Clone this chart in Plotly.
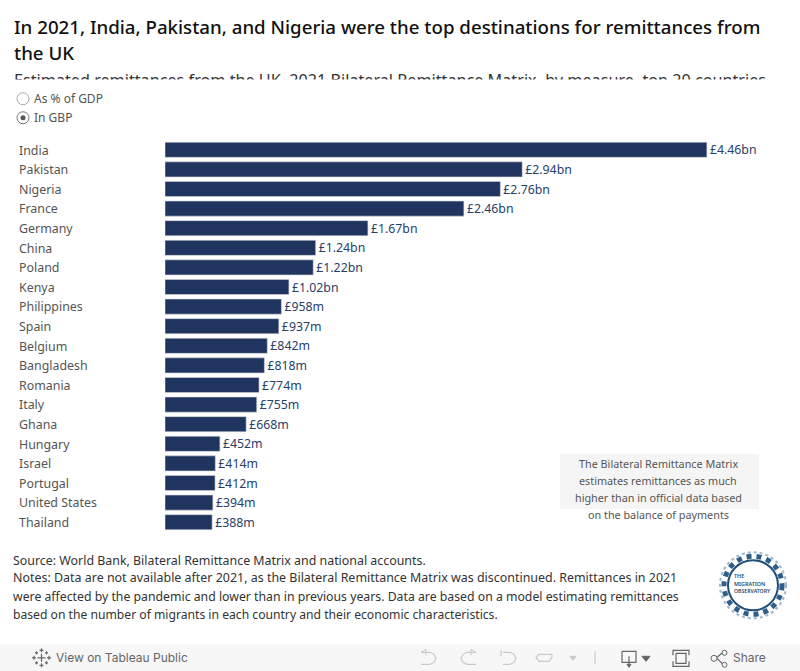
import plotly.graph_objects as go

W, H = 800, 671
countries = ["India","Pakistan","Nigeria","France","Germany","China","Poland","Kenya","Philippines","Spain",
             "Belgium","Bangladesh","Romania","Italy","Ghana","Hungary","Israel","Portugal","United States","Thailand"]
values_m = [4460,2940,2760,2460,1670,1240,1220,1020,958,937,842,818,774,755,668,452,414,412,394,388]
value_labels = ["£4.46bn","£2.94bn","£2.76bn","£2.46bn","£1.67bn","£1.24bn","£1.22bn","£1.02bn","£958m","£937m",
                "£842m","£818m","£774m","£755m","£668m","£452m","£414m","£412m","£394m","£388m"]
title_lines = ["In 2021, India, Pakistan, and Nigeria were the top destinations for remittances from", "the UK"]
subtitle = "Estimated remittances from the UK, 2021 Bilateral Remittance Matrix, by measure, top 20 countries"
note_lines = ["Source: World Bank, Bilateral Remittance Matrix and national accounts.",
              "Notes: Data are not available after 2021, as the Bilateral Remittance Matrix was discontinued. Remittances in 2021",
              "were affected by the pandemic and lower than in previous years. Data are based on a model estimating remittances",
              "based on the number of migrants in each country and their economic characteristics."]
box_lines = ["The Bilateral Remittance Matrix","estimates remittances as much","higher than in official data based","on the balance of payments"]

L, R, T, B = 165, 800, 140.2, 531.8
FONT = "Noto Sans"
NAVY = "#1f3560"
GREY = "#555555"

def px(x): return (x - L) / (R - L)
def py(y): return (B - y) / (B - T)

anns, shapes = [], []
def text(x, y, s, size=12, color=GREY, anchor="left", family=FONT, weight="normal"):
    anns.append(dict(x=px(x), y=py(y), xref="paper", yref="paper", text=s, showarrow=False, xanchor=anchor,
                     yanchor="middle", align=anchor, font=dict(size=size, color=color, family=family, weight=weight),
                     borderpad=0))
def rect(x0, y0, x1, y1, fill, line=None, width=1, kind="rect", layer="below", dash=None):
    shapes.append(dict(type=kind, xref="paper", yref="paper", x0=px(x0), x1=px(x1), y0=py(y0), y1=py(y1),
                       fillcolor=fill, line=dict(color=line or "rgba(0,0,0,0)", width=width if line else 0, dash=dash),
                       layer=layer))
def path(points, color="#666666", width=1.2, closed=False):
    d = "M" + " L".join(f"{px(a):.5f},{py(b):.5f}" for a, b in points) + (" Z" if closed else "")
    shapes.append(dict(type="path", xref="paper", yref="paper", path=d, line=dict(color=color, width=width),
                       fillcolor=color if closed else "rgba(0,0,0,0)", layer="above"))

# headings
text(12.5, 27, title_lines[0], 18.7, "#111111", weight=500)
text(12.5, 53, title_lines[1], 18.7, "#111111", weight=500)
text(12.5, 80, subtitle, 16.2, "#333333")
# mask that clips the subtitle, as in the source view
anns.append(dict(x=px(0), y=py(85.5), xref="paper", yref="paper", text=" ", showarrow=False, xanchor="left",
                 yanchor="middle", width=800, height=11, bgcolor="white", borderpad=0, font=dict(size=4)))

# radio control
rect(17, 93, 29, 105, "white", "#aaaaaa", kind="circle")
rect(17, 112, 29, 124, "white", "#777777", kind="circle")
rect(20.5, 115.5, 25.5, 120.5, "#555555", kind="circle")
text(33, 98.5, "As % of GDP", 12)
text(33, 118, "In GBP", 12)

# category labels
step = (B - T) / len(countries)
for i, c in enumerate(countries):
    text(17.5, T + step * (i + .5) + .2, c, 12.4)

# note box
rect(560, 454, 759, 509, "#f5f5f5")
for yy, s in zip([463, 480, 497, 514], box_lines):
    text(658, yy, s, 10.8, GREY, "center")

# notes
for yy, s, sz in zip([560, 577.5, 596, 614], note_lines, [12.4, 12.45, 12.27, 12.15]):
    text(11.5, yy, s, sz, "#333333")

# logo
rect(720, 552, 786, 618, "rgba(0,0,0,0)", "#9db6cc", 2, "circle", dash="dot")
rect(724, 556, 782, 614, "rgba(0,0,0,0)", "#2f5f88", 5, "circle", dash="dot")
rect(728, 560, 778, 610, "rgba(0,0,0,0)", "#1f4f78", 2, "circle")
text(733, 576, "THE", 5.4, "#2a4a68", weight=600)
text(733, 583.5, "MIGRATION", 5.4, "#2a4a68", weight=600)
text(733, 591, "OBSERVATORY", 5.2, "#2a4a68", weight=600)

# footer bar
rect(0, 644, 800, 671, "#f7f7f7")
text(55, 657.5, "View on Tableau Public", 12, "#666666", family="Inter")
text(732, 657.5, "Share", 12, "#666666", family="Inter")
# Tableau mark
for cx, cy, r in [(41.5, 657.5, 4), (41.5, 650, 2), (41.5, 665, 2), (34, 657.5, 2), (49, 657.5, 2),
                  (36.5, 652.5, 1.5), (46.5, 652.5, 1.5), (36.5, 662.5, 1.5), (46.5, 662.5, 1.5)]:
    path([(cx - r, cy), (cx + r, cy)], "#666666", 1.2)
    path([(cx, cy - r), (cx, cy + r)], "#666666", 1.2)
LIGHT = "#c9c9c9"
# undo
path([(421, 652), (426, 649), (426, 655)], LIGHT, 1)
path([(421, 652), (430, 652), (434, 654), (436, 658), (434, 662), (430, 664), (421, 664)], LIGHT)
# redo
path([(476, 652), (471, 649), (471, 655)], LIGHT, 1)
path([(476, 652), (467, 652), (463, 654), (461, 658), (463, 662), (467, 664), (476, 664)], LIGHT)
# revert
path([(501, 650), (501, 656)], LIGHT)
path([(503, 652), (510, 652), (514, 654), (516, 658), (514, 662), (510, 664), (503, 664)], LIGHT)
# forward
path([(552, 654), (539, 654), (536, 657), (539, 661), (549, 661), (552, 657), (552, 654)], LIGHT)
path([(570, 656), (573, 660), (576, 656)], LIGHT, 1, True)
path([(595, 651), (595, 664)], LIGHT)
# download
path([(622, 651), (636, 651), (636, 662), (622, 662), (622, 651)], "#666666")
path([(629, 656), (629, 666)], "#666666")
path([(627, 664), (629, 667), (631, 664)], "#666666", 1, True)
path([(642, 656), (646, 661), (650, 656)], "#666666", 1, True)
# fullscreen
path([(673, 655), (673, 650), (689, 650), (689, 655)], "#666666")
path([(673, 661), (673, 666), (689, 666), (689, 661)], "#666666")
path([(676, 653), (686, 653), (686, 663), (676, 663), (676, 653)], "#666666")
# share
path([(717, 657), (723, 652)], "#666666")
path([(717, 658), (723, 664)], "#666666")
rect(711, 655, 717, 661, "#f7f7f7", "#666666", 1, "circle", "above")
rect(722, 650, 727, 655, "#f7f7f7", "#666666", 1, "circle", "above")
rect(722, 662, 727, 667, "#f7f7f7", "#666666", 1, "circle", "above")

fig = go.Figure(go.Bar(
    x=values_m, y=countries, orientation="h", width=0.77,
    marker=dict(color=NAVY, line=dict(color="#d4d4d4", width=0.6)),
    text=value_labels, textposition="outside", cliponaxis=False, constraintext="none",
    textfont=dict(size=12.3, color="#27406b", family=FONT), hoverinfo="skip",
))
fig.update_layout(
    width=W, height=H, autosize=False, showlegend=False, plot_bgcolor="white", paper_bgcolor="white",
    margin=dict(l=L, r=W - R, t=T, b=H - B, pad=0),
    xaxis=dict(range=[0, (R - L) / 0.1215], visible=False, fixedrange=True),
    yaxis=dict(autorange="reversed", visible=False, fixedrange=True, categoryorder="array", categoryarray=countries),
    annotations=anns, shapes=shapes,
)
fig.write_html("out.html", config={"displayModeBar": False},
               post_script="document.body.style.margin='0';document.body.style.overflow='hidden';")
